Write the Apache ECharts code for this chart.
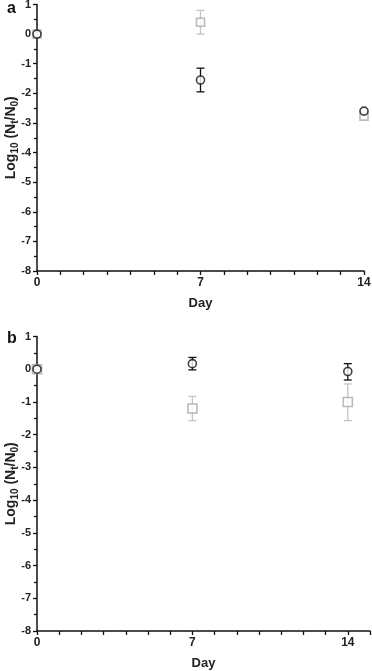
<!DOCTYPE html>
<html>
<head>
<meta charset="utf-8">
<script src="https://cdn.jsdelivr.net/npm/echarts@6/dist/echarts.min.js"></script>
<style>
html, body { margin: 0; padding: 0; background: #fff; }
#chart { width: 372px; height: 671px; }
</style>
</head>
<body>
<div id="chart"></div>
<script>
// days sampled
var days = [0, 7, 14];
var xLabels = [0, 7, 14];

// panel a
var aCircle = [0, -1.55, -2.6];
var aCircleLow = [0, -1.95, -2.6];
var aCircleHigh = [0, -1.15, -2.6];
var aSquare = [0, 0.4, -2.77];
var aSquareLow = [0, 0.0, -2.77];
var aSquareHigh = [0, 0.8, -2.77];

// panel b
var bCircle = [0, 0.17, -0.07];
var bCircleLow = [0, -0.02, -0.33];
var bCircleHigh = [0, 0.36, 0.17];
var bSquare = [0, -1.2, -1.0];
var bSquareLow = [0, -1.57, -1.57];
var bSquareHigh = [0, -0.83, -0.45];

var FONT = 'Liberation Sans';
var BLACK = '#111';
var GRAY = '#a9a9a9';
var GRAY_BAR = '#c4c4c4';

function pts(vals) {
	var out = [];
	for (var i = 0; i < days.length; i++) out.push([days[i], vals[i]]);
	return out;
}
function errPts(lo, hi) {
	var out = [];
	for (var i = 0; i < days.length; i++) out.push([days[i], lo[i], hi[i]]);
	return out;
}

function errSeries(idx, lo, hi, color) {
	return {
		type: 'custom',
		xAxisIndex: idx,
		yAxisIndex: idx,
		data: errPts(lo, hi),
		clip: false,
		silent: true,
		z: 1,
		renderItem: function(params, api) {
			var x = api.value(0);
			var p1 = api.coord([x, api.value(1)]);
			var p2 = api.coord([x, api.value(2)]);
			if (Math.abs(p1[1] - p2[1]) < 1) return null;
			var w = 4;
			var st = { stroke: color, lineWidth: 1.3 };
			return {
				type: 'group',
				children: [
					{ type: 'line', shape: { x1: p1[0], y1: p1[1], x2: p2[0], y2: p2[1] }, style: st },
					{ type: 'line', shape: { x1: p1[0] - w, y1: p1[1], x2: p1[0] + w, y2: p1[1] }, style: st },
					{ type: 'line', shape: { x1: p2[0] - w, y1: p2[1], x2: p2[0] + w, y2: p2[1] }, style: st }
				]
			};
		}
	};
}

function symSeries(idx, vals, symbol, size, color, z) {
	return {
		type: 'scatter',
		xAxisIndex: idx,
		yAxisIndex: idx,
		data: pts(vals),
		symbol: symbol,
		symbolSize: size,
		clip: false,
		z: z,
		itemStyle: { color: '#fff', borderColor: color, borderWidth: 1.6 }
	};
}

function xAxis(idx, max) {
	return {
		type: 'value',
		gridIndex: idx,
		min: 0,
		max: max,
		interval: 1,
		axisLine: { onZero: false, lineStyle: { color: BLACK, width: 1.5 } },
		axisTick: { length: 4, lineStyle: { color: BLACK, width: 1.3 } },
		splitLine: { show: false },
		axisLabel: {
			color: '#222', fontFamily: FONT, fontWeight: 'bold', fontSize: 12, margin: 6,
			formatter: function(v) { return xLabels.indexOf(v) >= 0 ? String(v) : ''; }
		},
		name: 'Day',
		nameLocation: 'middle',
		nameGap: 26,
		nameMoveOverlap: false,
		nameTextStyle: { color: '#222', fontFamily: FONT, fontWeight: 'bold', fontSize: 13 }
	};
}

function yAxis(idx) {
	return {
		type: 'value',
		gridIndex: idx,
		min: -8,
		max: 1,
		interval: 1,
		axisLine: { show: true, onZero: false, lineStyle: { color: BLACK, width: 1.5 } },
		axisTick: { length: 4, lineStyle: { color: BLACK, width: 1.3 } },
		minorTick: { show: true, splitNumber: 2, length: 3, lineStyle: { color: BLACK, width: 1.3 } },
		splitLine: { show: false },
		axisLabel: { color: '#222', fontFamily: FONT, fontWeight: 'bold', fontSize: 11, margin: 6 },
		name: '{b|Log}{s|10}{b| (N}{s|t}{b|/N}{s|0}{b|)}',
		nameLocation: 'middle',
		nameGap: 17,
		nameMoveOverlap: false,
		nameTextStyle: {
			color: '#222',
			rich: {
				b: { fontFamily: FONT, fontWeight: 'bold', fontSize: 14, color: '#222' },
				s: { fontFamily: FONT, fontWeight: 'bold', fontSize: 10, color: '#222', verticalAlign: 'bottom', padding: [7, 0, 0, 0] }
			}
		}
	};
}

var chart = echarts.init(document.getElementById('chart'));
chart.setOption({
	animation: false,
	backgroundColor: '#fff',
	title: [
		{ text: 'a', left: 2, top: -4, textStyle: { fontFamily: FONT, fontWeight: 'bold', fontSize: 16, color: '#111' } },
		{ text: 'b', left: 2, top: 326, textStyle: { fontFamily: FONT, fontWeight: 'bold', fontSize: 16, color: '#111' } }
	],
	grid: [
		{ left: 37, top: 4.5, width: 327, height: 266.5, outerBoundsMode: 'none', containLabel: false },
		{ left: 37, top: 336.5, width: 333, height: 294.5, outerBoundsMode: 'none', containLabel: false }
	],
	xAxis: [xAxis(0, 14), xAxis(1, 15)],
	yAxis: [yAxis(0), yAxis(1)],
	series: [
		errSeries(0, aSquareLow, aSquareHigh, GRAY_BAR),
		errSeries(0, aCircleLow, aCircleHigh, BLACK),
		symSeries(0, aSquare, 'rect', 8, GRAY, 2),
		symSeries(0, aCircle, 'circle', 8, BLACK, 3),
		errSeries(1, bSquareLow, bSquareHigh, GRAY_BAR),
		errSeries(1, bCircleLow, bCircleHigh, BLACK),
		symSeries(1, bSquare, 'rect', 9, GRAY, 2),
		symSeries(1, bCircle, 'circle', 8, BLACK, 3)
	]
});
</script>
</body>
</html>
